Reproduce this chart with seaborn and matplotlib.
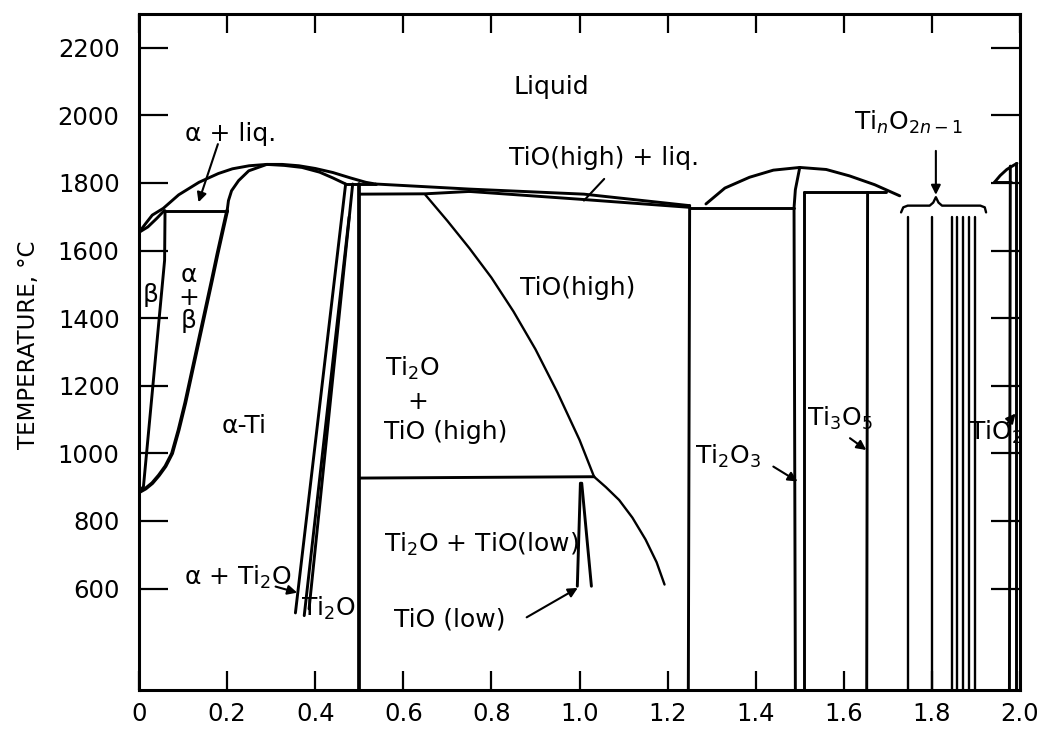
import numpy as np
import pandas as pd
import matplotlib
matplotlib.use("Agg")
import matplotlib.pyplot as plt
import seaborn as sns

# ---------------- data (x = O/Ti atomic ratio, y = temperature in °C) ----------------
x_ticks = [0, 0.2, 0.4, 0.6, 0.8, 1.0, 1.2, 1.4, 1.6, 1.8, 2.0]
x_tick_labels = ["0", "0.2", "0.4", "0.6", "0.8", "1.0", "1.2", "1.4", "1.6", "1.8", "2.0"]
y_ticks = [600, 800, 1000, 1200, 1400, 1600, 1800, 2000, 2200]

# alpha-Ti dome liquidus (continues into TiO side)
liq_alpha_x = [0, 0.015, 0.03, 0.055, 0.09, 0.136, 0.18, 0.212, 0.25, 0.29, 0.325, 0.363, 0.40, 0.44, 0.48, 0.515, 0.537]
liq_alpha_y = [1654, 1680, 1705, 1725, 1765, 1802, 1828, 1842, 1851, 1855, 1855, 1851, 1843, 1831, 1815, 1802, 1797]
# beta solidus (small lens at Ti side)
sol_beta_x = [0, 0.02, 0.04, 0.057]
sol_beta_y = [1654, 1670, 1695, 1718]
# peritectic beta + liq -> alpha
perit1_x = [0.057, 0.2]
perit1_y = [1718, 1718]
# alpha solidus, left and right branch
sol_alpha_l_x = [0.2, 0.203, 0.21, 0.226, 0.249, 0.29]
sol_alpha_l_y = [1718, 1748, 1777, 1807, 1836, 1855]
sol_alpha_r_x = [0.29, 0.33, 0.37, 0.41, 0.44, 0.469]
sol_alpha_r_y = [1855, 1852, 1846, 1832, 1815, 1797]
perit2_x = [0.469, 0.537]
perit2_y = [1797, 1797]
# beta / (alpha+beta) boundary
beta_tr_x = [0.059, 0.058, 0.01, 0]
beta_tr_y = [1718, 1571, 902, 885]
# (alpha+beta) / alpha boundary
alpha_tr_x = [0.2, 0.19, 0.178, 0.165, 0.15, 0.135, 0.12, 0.105, 0.09, 0.075, 0.06, 0.045, 0.03, 0.015, 0]
alpha_tr_y = [1718, 1660, 1590, 1510, 1420, 1330, 1240, 1150, 1070, 1000, 962, 935, 912, 896, 885]
# alpha / Ti2O boundaries
ti2o_1_x = [0.469, 0.355]
ti2o_1_y = [1797, 528]
ti2o_2_x = [0.477, 0.375]
ti2o_2_y = [1700, 520]
ti2o_3_x = [0.485, 0.386]
ti2o_3_y = [1797, 540]
# vertical at O/Ti = 0.5
half_x = [0.5, 0.5]
half_y = [1797, 300]
# peritectic near 1770
perit3_x = [0.5, 0.65, 0.75]
perit3_y = [1767, 1768, 1775]
# TiO(high) liquidus and solidus
liq_tio_x = [0.537, 0.75, 1.01, 1.25]
liq_tio_y = [1797, 1782, 1767, 1733]
sol_tio_x = [0.75, 1.0, 1.25]
sol_tio_y = [1775, 1752, 1728]
# TiO(high) left boundary and its low temperature continuation
tio_high_x = [0.65, 0.70, 0.75, 0.80, 0.85, 0.90, 0.95, 1.00, 1.033]
tio_high_y = [1765, 1688, 1607, 1520, 1420, 1308, 1180, 1040, 931]
tio_low_curve_x = [1.033, 1.06, 1.09, 1.12, 1.15, 1.175, 1.193]
tio_low_curve_y = [931, 900, 862, 810, 745, 678, 612]
# eutectoid near 930
eutd_x = [0.5, 1.033]
eutd_y = [927, 931]
# TiO(low) narrow field
tio_low_l_x = [1.002, 0.995]
tio_low_l_y = [912, 607]
tio_low_r_x = [1.005, 1.027]
tio_low_r_y = [912, 607]
# Ti2O3 side
ti2o3_l_x = [1.25, 1.247]
ti2o3_l_y = [1733, 300]
eut2_x = [1.25, 1.487]
eut2_y = [1726, 1726]
dome_x = [1.287, 1.33, 1.386, 1.44, 1.5, 1.56, 1.613, 1.67, 1.727]
dome_y = [1738, 1785, 1817, 1838, 1846, 1840, 1821, 1795, 1762]
ti2o3_a_x = [1.5, 1.49, 1.487, 1.49]
ti2o3_a_y = [1846, 1780, 1726, 300]
ti2o3_b_x = [1.51, 1.51]
ti2o3_b_y = [1772, 300]
ti3o5_top_x = [1.51, 1.696]
ti3o5_top_y = [1772, 1772]
ti3o5_x = [1.654, 1.652]
ti3o5_y = [1772, 300]
# Magneli phases TinO2n-1
magneli_x = [1.745, 1.80, 1.845, 1.858, 1.871, 1.884, 1.897]
magneli_top = 1698
magneli_bottom = 300
# brace over Magneli phases
brace_x = [1.73, 1.735, 1.745, 1.795, 1.803, 1.809, 1.815, 1.823, 1.91, 1.92, 1.923]
brace_y = [1713, 1728, 1733, 1733, 1742, 1758, 1742, 1733, 1733, 1728, 1713]
# TiO2
tio2_dome_x = [1.942, 1.955, 1.97, 1.985, 1.993]
tio2_dome_y = [1802, 1822, 1840, 1852, 1858]
tio2_h_x = [1.942, 1.98]
tio2_h_y = [1802, 1802]
tio2_a_x = [1.978, 1.976]
tio2_a_y = [1850, 300]
tio2_b_x = [1.99, 1.99]
tio2_b_y = [1858, 300]

# labels: (text, x, y)
labels = [
    ("Liquid", 0.937, 2084),
    ("α + liq.", 0.208, 1945),
    ("TiO(high) + liq.", 1.055, 1874),
    ("TiO(high)", 0.995, 1488),
    ("Ti$_2$O", 0.62, 1252),
    ("+", 0.634, 1152),
    ("TiO (high)", 0.696, 1063),
    ("Ti$_2$O + TiO(low)", 0.777, 730),
    ("TiO (low)", 0.705, 509),
    ("α-Ti", 0.239, 1081),
    ("β", 0.026, 1470),
    ("α\n+\nβ", 0.113, 1460),
    ("α + Ti$_2$O", 0.225, 632),
    ("Ti$_2$O", 0.43, 541),
    ("Ti$_2$O$_3$", 1.338, 992),
    ("Ti$_3$O$_5$", 1.59, 1104),
    ("Ti$_n$O$_{2n-1}$", 1.747, 1978),
    ("TiO$_2$", 1.944, 1063),
]
# arrows: (tail x, tail y, head x, head y, with head)
arrows = [
    (0.179, 1915, 0.135, 1743, True),
    (1.056, 1812, 1.01, 1748, False),
    (0.88, 515, 0.996, 602, True),
    (0.31, 606, 0.359, 588, True),
    (1.44, 961, 1.495, 917, True),
    (1.614, 1045, 1.651, 1010, True),
    (1.809, 1895, 1.809, 1765, True),
    (1.972, 1090, 1.99, 1118, True),
]

# ---------------- build long-form table ----------------
normal = {
    "liq_alpha": (liq_alpha_x, liq_alpha_y), "sol_beta": (sol_beta_x, sol_beta_y),
    "perit1": (perit1_x, perit1_y), "sol_alpha_l": (sol_alpha_l_x, sol_alpha_l_y),
    "sol_alpha_r": (sol_alpha_r_x, sol_alpha_r_y), "perit2": (perit2_x, perit2_y),
    "beta_tr": (beta_tr_x, beta_tr_y), "ti2o_1": (ti2o_1_x, ti2o_1_y),
    "ti2o_2": (ti2o_2_x, ti2o_2_y), "ti2o_3": (ti2o_3_x, ti2o_3_y),
    "perit3": (perit3_x, perit3_y), "liq_tio": (liq_tio_x, liq_tio_y),
    "sol_tio": (sol_tio_x, sol_tio_y), "eutd": (eutd_x, eutd_y),
    "tio_low_l": (tio_low_l_x, tio_low_l_y), "tio_low_r": (tio_low_r_x, tio_low_r_y),
    "ti2o3_l": (ti2o3_l_x, ti2o3_l_y), "eut2": (eut2_x, eut2_y), "dome": (dome_x, dome_y),
    "ti2o3_a": (ti2o3_a_x, ti2o3_a_y), "ti2o3_b": (ti2o3_b_x, ti2o3_b_y),
    "ti3o5_top": (ti3o5_top_x, ti3o5_top_y), "ti3o5": (ti3o5_x, ti3o5_y),
    "tio2_dome": (tio2_dome_x, tio2_dome_y), "tio2_h": (tio2_h_x, tio2_h_y),
    "tio2_a": (tio2_a_x, tio2_a_y), "tio2_b": (tio2_b_x, tio2_b_y),
}
thick = {"alpha_tr": (alpha_tr_x, alpha_tr_y), "half": (half_x, half_y)}
thin = {"tio_high": (tio_high_x, tio_high_y), "tio_low_curve": (tio_low_curve_x, tio_low_curve_y),
        "brace": (brace_x, brace_y)}
for i, mx in enumerate(magneli_x):
    thin[f"magneli{i}"] = ([mx, mx], [magneli_top, magneli_bottom])


def to_frame(d):
    rows = []
    for name, (xs, ys) in d.items():
        for k, (xv, yv) in enumerate(zip(xs, ys)):
            rows.append({"curve": name, "order": k, "x": xv, "y": yv})
    return pd.DataFrame(rows)


sns.set_theme(style="white")
plt.rcParams["font.family"] = ["DejaVu Sans"]
plt.rcParams["mathtext.fontset"] = "dejavusans"

fig = plt.figure(figsize=(10.51, 7.29), dpi=100)
ax = fig.add_axes([0.1323, 0.0535, 0.8382, 0.9273])

for d, lw in ((normal, 2.1), (thick, 2.7), (thin, 1.7)):
    sns.lineplot(data=to_frame(d), x="x", y="y", units="curve", estimator=None,
                 sort=False, color="black", lw=lw, ax=ax, legend=False)

for txt, tx, ty in labels:
    ax.text(tx, ty, txt, ha="center", va="center", fontsize=18, color="black",
            linespacing=0.95)

for x0, y0, x1, y1, head in arrows:
    ax.annotate("", xy=(x1, y1), xytext=(x0, y0),
                arrowprops=dict(arrowstyle="-|>" if head else "-", color="black", lw=1.5,
                                mutation_scale=14, shrinkA=0, shrinkB=0))

ax.set_xlim(0, 2.0)
ax.set_ylim(300, 2300)
ax.set_xticks(x_ticks)
ax.set_xticklabels(x_tick_labels)
ax.set_yticks(y_ticks)
ax.set_xlabel("")
ax.set_ylabel("TEMPERATURE, °C", fontsize=16.5, color="black")
ax.yaxis.set_label_coords(-0.112, 0.51)

ax.tick_params(axis="x", direction="in", length=14, width=1.6, top=True, bottom=True,
               labelsize=17.5, pad=9, colors="black")
ax.tick_params(axis="y", direction="in", length=21, width=1.6, left=True, right=True,
               labelsize=17.5, pad=14, colors="black")
for s in ax.spines.values():
    s.set_visible(True)
    s.set_linewidth(2.2)
    s.set_color("black")

fig.savefig("out.png", dpi=100, facecolor="white")
